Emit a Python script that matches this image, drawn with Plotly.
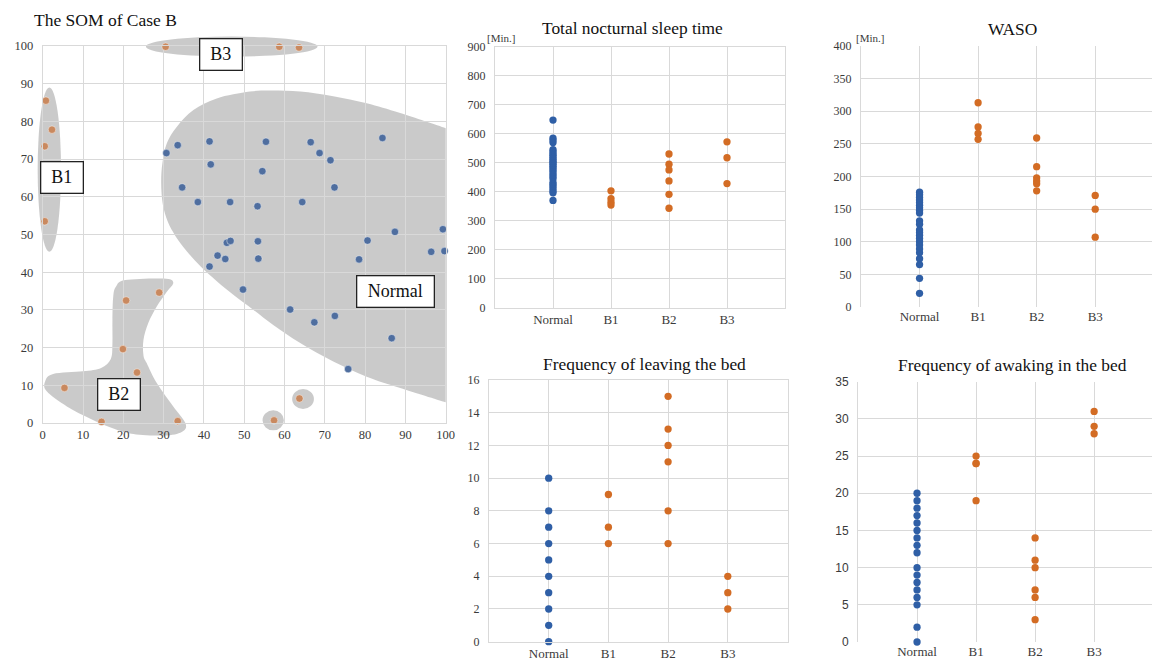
import plotly.graph_objects as go

W, H = 1152, 662

# ---------------- data ----------------
# SOM map: Normal nodes (blue) and abnormal nodes (orange)
som_normal_x = [30.7, 33.5, 41.4, 55.4, 66.5, 68.7, 71.4, 84.3, 41.7, 54.5, 34.6, 72.4,
                38.5, 46.5, 53.3, 64.4, 99.3, 87.4, 80.6, 96.4, 99.7, 78.5, 53.4, 53.5,
                45.7, 46.6, 43.4, 45.3, 41.4, 49.7, 61.4, 67.4, 72.5, 86.6, 75.8]
som_normal_y = [71.6, 73.7, 74.7, 74.6, 74.5, 71.6, 69.7, 75.6, 68.6, 66.8, 62.5, 62.5,
                58.6, 58.6, 57.5, 58.6, 51.4, 50.7, 48.4, 45.4, 45.6, 43.4, 48.2, 43.6,
                47.8, 48.3, 44.4, 43.5, 41.5, 35.4, 30.1, 26.7, 28.4, 22.5, 14.3]
som_abn_x = [30.5, 58.7, 63.6, 0.8, 2.3, 0.5, 0.5, 5.4, 14.6, 20.7, 28.9, 19.9, 23.4, 33.5, 57.4, 63.7]
som_abn_y = [99.8, 99.8, 99.6, 85.5, 77.8, 73.4, 53.5, 9.3, 0.3, 32.5, 34.6, 19.6, 13.4, 0.5, 0.7, 6.5]
som_ticks = [0, 10, 20, 30, 40, 50, 60, 70, 80, 90, 100]

categories = ["Normal", "B1", "B2", "B3"]

sleep_normal = [647, 585, 578, 570, 545, 538, 530, 525, 518, 512, 505, 500, 495, 488,
                482, 475, 468, 460, 452, 445, 432, 425, 418, 410, 402, 396, 370]
sleep_b1 = [403, 376, 364, 354]
sleep_b2 = [530, 495, 475, 437, 391, 343]
sleep_b3 = [572, 517, 428]

waso_normal = [176, 172, 168, 164, 160, 156, 152, 148, 144, 132, 127, 118, 114, 110,
               105, 100, 95, 89, 83, 74, 65, 44, 21]
waso_b1 = [313, 276, 266, 257]
waso_b2 = [259, 215, 198, 193, 189, 178]
waso_b3 = [171, 150, 107]

leave_normal = [0, 1, 2, 3, 4, 5, 6, 7, 8, 10]
leave_b1 = [9, 7, 6]
leave_b2 = [15, 13, 12, 11, 8, 6]
leave_b3 = [4, 3, 2]

awake_normal = [0, 2, 5, 6, 7, 8, 9, 10, 12, 13, 14, 15, 16, 17, 18, 19, 20]
awake_b1 = [25, 24, 24, 19]
awake_b2 = [14, 11, 10, 7, 6, 3]
awake_b3 = [31, 29, 28]

# ---------------- style ----------------
SERIF = "Liberation Serif"
BLUE = "#2f5fa6"
ORANGE = "#d36c24"
SOM_BLUE = "#4f6e9f"
SOM_ORANGE = "#c9895f"
GRID = "#d9d9d9"
TICKC = "#3a3a3a"
BLOB = "rgba(95,95,95,0.33)"


def px2x(p):
    return p / W


def px2y(p):
    return 1 - p / H


fig = go.Figure()

# ---- SOM subplot (x, y) ----
som_dom_x = [px2x(42.7), px2x(445.7)]
som_dom_y = [px2y(423), px2y(46)]

fig.add_trace(go.Scatter(x=som_normal_x, y=som_normal_y, mode="markers", xaxis="x", yaxis="y",
                         marker=dict(size=7.5, color=SOM_BLUE, line=dict(width=0.8, color="rgba(255,255,255,0.55)")),
                         cliponaxis=False, showlegend=False))
fig.add_trace(go.Scatter(x=som_abn_x, y=som_abn_y, mode="markers", xaxis="x", yaxis="y",
                         marker=dict(size=7.5, color=SOM_ORANGE, line=dict(width=0.8, color="rgba(255,255,255,0.55)")),
                         cliponaxis=False, showlegend=False))


def sx(v):
    return som_dom_x[0] + v / 100 * (som_dom_x[1] - som_dom_x[0])


def sy(v):
    return som_dom_y[0] + v / 100 * (som_dom_y[1] - som_dom_y[0])


def catmull(points, closed=True):
    pts = [(sx(a), sy(b)) for a, b in points]
    n = len(pts)
    d = "M %.5f %.5f" % pts[0]
    rng = range(n) if closed else range(n - 1)
    for i in rng:
        p0 = pts[(i - 1) % n] if (closed or i > 0) else pts[i]
        p1 = pts[i]
        p2 = pts[(i + 1) % n]
        p3 = pts[(i + 2) % n] if (closed or i + 2 < n) else pts[(i + 1) % n]
        c1 = (p1[0] + (p2[0] - p0[0]) / 6, p1[1] + (p2[1] - p0[1]) / 6)
        c2 = (p2[0] - (p3[0] - p1[0]) / 6, p2[1] - (p3[1] - p1[1]) / 6)
        d += " C %.5f %.5f, %.5f %.5f, %.5f %.5f" % (c1[0], c1[1], c2[0], c2[1], p2[0], p2[1])
    if closed:
        d += " Z"
    return d


shapes = []
blob_style = dict(xref="paper", yref="paper", fillcolor=BLOB, line=dict(width=0), layer="below")

# Normal region outline
normal_curve = [(100, 78.2), (88.7, 82.2), (80.4, 84.8), (72.1, 86.7), (63.9, 87.9), (57, 88.2),
                (51.4, 87.9), (43.2, 86.1), (37.4, 83), (33.3, 78.6), (30.8, 74.2), (29.7, 68.9),
                (29.4, 63.6), (29.8, 58), (31, 53.5), (33, 49.5), (35.8, 45.5), (39.2, 41.5),
                (43.2, 37.6), (47.3, 34), (52.3, 30), (57.2, 26), (63.9, 21.2), (72.1, 16.3),
                (80.4, 12.3), (88.7, 9.3), (100, 5.5)]
path_normal = catmull(normal_curve, closed=False) + " L %.5f %.5f Z" % (sx(100), sy(78.2))
shapes.append(dict(type="path", path=path_normal, **blob_style))

# B2 region outline
b2_curve = [(0.6, 11), (2.6, 13), (10, 13.7), (14.5, 14.6), (16.9, 17), (17.3, 21), (17.3, 27.3),
            (17.5, 33.5), (18.2, 36.2), (20.5, 37.9), (30, 38.3), (32.4, 37.3), (30.8, 34.8),
            (28.3, 30.9), (26.2, 26.5), (25, 22), (25, 18), (25.8, 15.9), (28.3, 10.6),
            (32.4, 4.4), (35.4, 0), (34.8, -2.2), (30.8, -3.3), (22.5, -2.9), (16.7, -1.1),
            (11.7, 1.2), (6, 4.4), (1, 8.4)]
shapes.append(dict(type="path", path=catmull(b2_curve), **blob_style))

# ellipses: (cx, cy, rx, ry)
for cx, cy, rx, ry in [(1.65, 67.2, 2.9, 21.8), (46.9, 99.85, 21.3, 2.65),
                       (57.2, 0.7, 2.65, 2.65), (64.6, 6.35, 2.7, 2.65)]:
    shapes.append(dict(type="circle", x0=sx(cx - rx), x1=sx(cx + rx), y0=sy(cy - ry), y1=sy(cy + ry),
                       **blob_style))

axis_font = dict(family=SERIF, size=12.5, color=TICKC)
fig.update_layout(
    xaxis=dict(domain=som_dom_x, range=[0, 100], tickvals=som_ticks, showgrid=True, gridcolor=GRID,
               zeroline=False, showline=True, linecolor=GRID, mirror=True, ticks="",
               tickfont=axis_font, anchor="y", automargin=False),
    yaxis=dict(domain=som_dom_y, range=[0, 100], tickvals=som_ticks, showgrid=True, gridcolor=GRID,
               zeroline=False, showline=True, linecolor=GRID, mirror=True, ticks="",
               tickfont=axis_font, anchor="x", ticklabelstandoff=6, automargin=False),
)

# ---- category scatter panels ----
panels = [
    (2, [sleep_normal, sleep_b1, sleep_b2, sleep_b3], [0, 900], 100, (495, 785), (46.7, 307.7), 4, SERIF, True),
    (3, [waso_normal, waso_b1, waso_b2, waso_b3], [0, 400], 50, (861, 1152), (46, 307), 3.97, SERIF, False),
    (4, [leave_normal, leave_b1, leave_b2, leave_b3], [0, 16], 2, (489, 787.5), (380, 641.7), 4, SERIF, True),
    (5, [awake_normal, awake_b1, awake_b2, awake_b3], [0, 35], 5, (858, 1152), (381.7, 642), 3.98,
     "Liberation Sans", False),
]

for idx, series, yr, dt, xpx, ypx, xend, tfam, frame in panels:
    xa, ya = "x%d" % idx, "y%d" % idx
    for ci, vals in enumerate(series):
        fig.add_trace(go.Scatter(x=[ci] * len(vals), y=vals, mode="markers", xaxis=xa, yaxis=ya,
                                 marker=dict(size=7.3, color=BLUE if ci == 0 else ORANGE),
                                 cliponaxis=False, showlegend=False))
    fig.layout["xaxis%d" % idx] = dict(
        domain=[px2x(xpx[0]), px2x(xpx[1])], range=[-1, xend], tickvals=[0, 1, 2, 3],
        ticktext=categories, showgrid=True, gridcolor=GRID, zeroline=False, showline=frame,
        linecolor=GRID, mirror=frame, ticks="", tickfont=dict(family=SERIF, size=13, color=TICKC),
        anchor=ya, automargin=False)
    fig.layout["yaxis%d" % idx] = dict(
        domain=[px2y(ypx[1]), px2y(ypx[0])], range=yr, dtick=dt, showgrid=True, gridcolor=GRID,
        zeroline=False, showline=True, linecolor=GRID, mirror=frame, ticks="",
        tickfont=dict(family=tfam, size=12, color=TICKC), anchor=xa, ticklabelstandoff=6,
        automargin=False)

# ---- text ----
ann = []
title_font = dict(family=SERIF, size=17.4, color="#111111")
ann.append(dict(text="The SOM of Case B", x=px2x(32), y=px2y(20), xanchor="left", yanchor="middle",
                font=dict(family=SERIF, size=17.5, color="#111111")))
ann.append(dict(text="Total nocturnal sleep time", x=px2x(632.5), y=px2y(28), xanchor="center",
                yanchor="middle", font=title_font))
ann.append(dict(text="WASO", x=px2x(1012.5), y=px2y(29), xanchor="center", yanchor="middle", font=title_font))
ann.append(dict(text="Frequency of leaving the bed", x=px2x(644), y=px2y(364), xanchor="center",
                yanchor="middle", font=title_font))
ann.append(dict(text="Frequency of awaking in the bed", x=px2x(1012.5), y=px2y(365), xanchor="center",
                yanchor="middle", font=title_font))
unit_font = dict(family=SERIF, size=11, color=TICKC)
ann.append(dict(text="[Min.]", x=px2x(501), y=px2y(38), xanchor="center", yanchor="middle", font=unit_font))
ann.append(dict(text="[Min.]", x=px2x(870), y=px2y(38), xanchor="center", yanchor="middle", font=unit_font))

box_font = dict(family=SERIF, size=18, color="#111111")
for label, cxp, cyp, wbox in [("B3", 221, 54.5, 39), ("B1", 61.5, 177, 39), ("B2", 118.5, 394, 39),
                              ("Normal", 395.5, 291.3, 74)]:
    ann.append(dict(text=label, x=px2x(cxp), y=px2y(cyp), xanchor="center", yanchor="middle",
                    font=box_font, bgcolor="white", bordercolor="#222222", borderwidth=1.3,
                    borderpad=1, width=wbox, height=28))

for a in ann:
    a.update(xref="paper", yref="paper", showarrow=False)

fig.update_layout(
    width=W, height=H, autosize=False,
    margin=dict(l=0, r=0, t=0, b=0, pad=0, autoexpand=False),
    paper_bgcolor="white", plot_bgcolor="rgba(0,0,0,0)",
    shapes=shapes, annotations=ann, showlegend=False,
)

post = ("document.documentElement.style.margin='0';document.body.style.margin='0';"
        "document.body.style.padding='0';document.body.style.overflow='hidden';"
        "document.documentElement.style.overflow='hidden';"
        "var d=document.getElementById('{plot_id}');d.style.position='absolute';"
        "d.style.left='0px';d.style.top='0px';")

fig.write_html("out.html", post_script=post, config={"displayModeBar": False})
